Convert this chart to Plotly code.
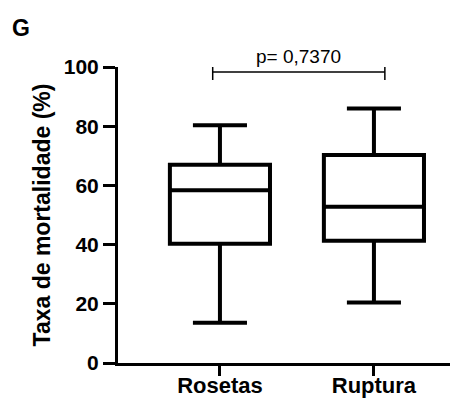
import plotly.graph_objects as go

categories = ["Rosetas", "Ruptura"]
lower = [13.6, 20.4]
q1 = [40.3, 41.3]
median = [58.4, 52.8]
q3 = [67.0, 70.3]
upper = [80.3, 86.0]
p_text = "p= 0,7370"
y_ticks = [0, 20, 40, 60, 80, 100]
panel_label = "G"

FONT = "Arial, Liberation Sans, sans-serif"

fig = go.Figure()
fig.add_trace(go.Box(
    x=[0, 1],
    q1=q1, median=median, q3=q3,
    lowerfence=lower, upperfence=upper,
    width=0.65,
    whiskerwidth=0.54,
    fillcolor="white",
    line=dict(color="black", width=4),
    boxpoints=False,
    hoverinfo="skip",
))

# significance bracket
bx0, bx1, by, bt = -0.047, 1.071, 98.3, 95.6
fig.add_shape(type="line", x0=bx0, x1=bx1, y0=by, y1=by, xref="x", yref="y",
              line=dict(color="black", width=1.5))
for bx in (bx0, bx1):
    fig.add_shape(type="line", x0=bx, x1=bx, y0=bt, y1=100, xref="x", yref="y",
                  line=dict(color="black", width=1.5))
fig.add_annotation(x=(bx0 + bx1) / 2, y=by, xref="x", yref="y", text=p_text,
                   showarrow=False, yanchor="bottom", yshift=3,
                   font=dict(family=FONT, size=19, color="black"))
fig.add_annotation(x=-108 / 332, y=1 + (67 - 13) / 296, xref="paper", yref="paper",
                   text="<b>" + panel_label + "</b>",
                   showarrow=False, xanchor="left", yanchor="top",
                   font=dict(family=FONT, size=23, color="black"))

fig.update_layout(
    width=470, height=399,
    margin=dict(l=118, r=20, t=67, b=36),
    plot_bgcolor="white", paper_bgcolor="white",
    showlegend=False,
    font=dict(family=FONT, color="black"),
    xaxis=dict(
        range=[-0.662, 1.494],
        tickmode="array", tickvals=[0, 1], ticktext=["<b>%s</b>" % c for c in categories],
        showline=True, linecolor="black", linewidth=3,
        ticks="outside", ticklen=10, tickwidth=3, tickcolor="black",
        tickfont=dict(family=FONT, size=22, color="black"),
        ticklabelstandoff=-9,
        automargin=False,
        showgrid=False, zeroline=False,
    ),
    yaxis=dict(
        range=[0, 100],
        tickmode="array", tickvals=y_ticks, ticktext=["<b>%d</b>" % v for v in y_ticks],
        showline=True, linecolor="black", linewidth=3,
        ticks="outside", ticklen=12, tickwidth=3, tickcolor="black",
        tickfont=dict(family=FONT, size=21, color="black"),
        title=dict(text="<b>Taxa de mortalidade (%)</b>", font=dict(family=FONT, size=23, color="black"), standoff=7),
        automargin=False,
        showgrid=False, zeroline=False,
    ),
)

fig.write_html("out.html")
